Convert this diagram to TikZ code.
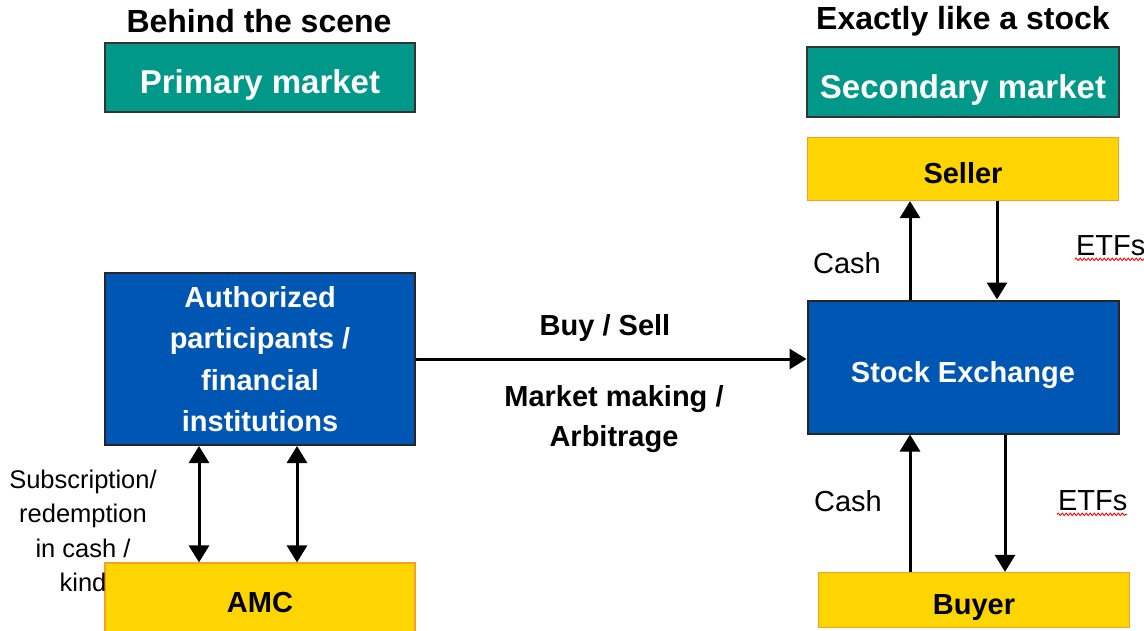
\documentclass[tikz,border=0pt]{standalone}
\usepackage{fontspec}
\setmainfont{Liberation Sans}
\usetikzlibrary{arrows.meta,decorations.pathmorphing}

\definecolor{mkteal}{RGB}{0,153,137}
\definecolor{mkblue}{RGB}{0,86,179}
\definecolor{mkyellow}{RGB}{255,213,0}
\definecolor{mkorange}{RGB}{245,160,40}

\begin{document}
\begin{tikzpicture}[x=1pt, y=-1pt, line width = 2pt,
		head/.style = {font=\fontsize{32}{38}\selectfont\bfseries},
		market/.style = {draw = black!80, fill = mkteal, text = white,
			minimum width = 310pt, minimum height = 69pt,
			text height = 32pt, text depth = 0pt,
			font=\fontsize{33}{40}\selectfont\bfseries},
		party/.style = {draw = mkorange, line width = 1.2pt, fill = mkyellow,
			minimum width = 311pt, text height = 29pt, text depth = 0pt,
			font=\fontsize{29}{35}\selectfont\bfseries},
		inst/.style = {draw = black!85, fill = mkblue, text = white,
			minimum width = 311pt, align = center,
			font=\fontsize{29}{41.5}\selectfont\bfseries},
		flow/.style = {-{Triangle[length=17pt,width=20pt]}, line width = 3pt},
		both/.style = {{Triangle[length=17pt,width=20pt]}-{Triangle[length=17pt,width=20pt]}, line width = 3pt},
		note/.style = {font=\fontsize{29}{35}\selectfont},
		squiggle/.style = {red, line width = 0.9pt, decorate,
			decoration = {snake, amplitude = 1.2pt, segment length = 4pt}}]

	\useasboundingbox (0,0) rectangle (1144,630);

	% headings and market boxes
	\node [head] (h_1) at (259,21) {Behind the scene};
	\node [head] (h_2) at (963,21) {Exactly like a stock};
	\node [market] (a_1) at (260,77.5) {Primary market};
	\node [market, minimum width = 312pt, minimum height = 70pt] (a_2) at (963,82) {Secondary market};

	% participants
	\node [party, minimum height = 63pt] (a_3) at (963,169) {Seller};
	\node [inst, minimum width = 310pt, minimum height = 172pt] (a_4) at (260,359)
		{Authorized\\participants /\\financial\\institutions};
	\node [inst, minimum height = 133pt, text height = 31pt, text depth = 0pt] (a_5) at (963,367) {Stock Exchange};
	\node [party, minimum width = 310pt, minimum height = 70pt] (a_6) at (260,598) {AMC};
	\node [party, minimum height = 55pt] (a_7) at (974,600) {Buyer};

	% x positions of the vertical arrows
	\coordinate (x_1) at (199,0);
	\coordinate (x_2) at (297,0);
	\coordinate (x_3) at (910,0);
	\coordinate (x_4) at (997,0);
	\coordinate (x_5) at (1005,0);

	\draw [flow] (a_4.east) -- (a_4.east -| a_5.west);
	\draw [both] (a_4.south -| x_1) -- (a_6.north -| x_1);
	\draw [both] (a_4.south -| x_2) -- (a_6.north -| x_2);
	\draw [flow] (a_5.north -| x_3) -- (a_3.south -| x_3);
	\draw [flow] (a_3.south -| x_4) -- (a_5.north -| x_4);
	\draw [flow] (a_7.north -| x_3) -- (a_5.south -| x_3);
	\draw [flow] (a_5.south -| x_5) -- (a_7.north -| x_5);

	% labels on the flows
	\node [note, font=\fontsize{29}{35}\selectfont\bfseries] (l_1) at (605,328) {Buy / Sell};
	\node [note, align = center, font=\fontsize{29}{40}\selectfont\bfseries] (l_2) at (614,419)
		{Market making /\\Arbitrage};
	\node [note, align = center, font=\fontsize{25.5}{34.5}\selectfont] (l_3) at (83,531)
		{Subscription/\\redemption\\in cash /\\kind};
	\node [note] (l_4) at (847,263) {Cash};
	\node [note, anchor = west, inner sep = 0pt] (l_5) at (1075,246) {ETFs};
	\node [note] (l_6) at (848,501) {Cash};
	\node [note, anchor = west, inner sep = 0pt] (l_7) at (1057,501) {ETFs};
	\draw [squiggle] (l_5.base west) ++(0,3.5) -- ++(70,0);
	\draw [squiggle] (l_7.base west) ++(0,3.5) -- ++(70,0);
\end{tikzpicture}
\end{document}
